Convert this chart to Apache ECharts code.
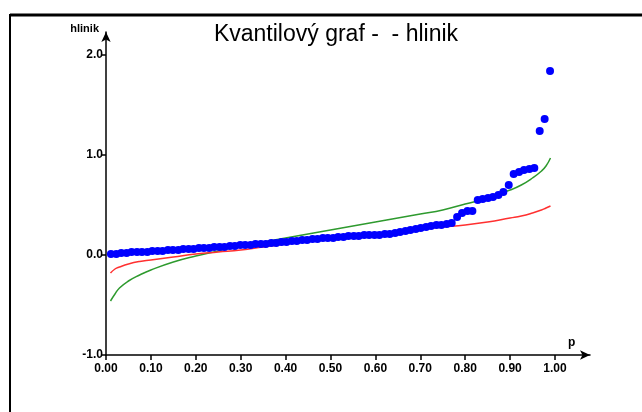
<!DOCTYPE html>
<html>
<head>
<meta charset="utf-8">
<script src="https://cdn.jsdelivr.net/npm/echarts@6/dist/echarts.min.js"></script>
<style>
  html, body { margin: 0; padding: 0; background: #fff; }
  #chart { width: 642px; height: 412px; }
</style>
</head>
<body>
<div id="chart"></div>
<script>
// Empirical quantiles of the "hlinik" sample (plotting position p, value)
const sampleP = [0.011, 0.023, 0.034, 0.046, 0.057, 0.069, 0.080, 0.092, 0.103, 0.115,
  0.126, 0.138, 0.149, 0.161, 0.172, 0.184, 0.195, 0.207, 0.218, 0.230,
  0.241, 0.253, 0.264, 0.276, 0.287, 0.299, 0.310, 0.322, 0.333, 0.345,
  0.356, 0.368, 0.379, 0.391, 0.402, 0.414, 0.425, 0.437, 0.448, 0.460,
  0.471, 0.483, 0.494, 0.506, 0.517, 0.529, 0.540, 0.552, 0.563, 0.575,
  0.586, 0.598, 0.609, 0.621, 0.632, 0.644, 0.655, 0.667, 0.678, 0.690,
  0.701, 0.713, 0.724, 0.736, 0.747, 0.759, 0.770, 0.782, 0.793, 0.805,
  0.816, 0.828, 0.839, 0.851, 0.862, 0.874, 0.885, 0.897, 0.908, 0.920,
  0.931, 0.943, 0.954, 0.966, 0.977, 0.989];
const sampleValues = [0.01, 0.01, 0.02, 0.02, 0.03, 0.03, 0.03, 0.03, 0.04, 0.04,
  0.04, 0.05, 0.05, 0.05, 0.06, 0.06, 0.06, 0.07, 0.07, 0.07,
  0.08, 0.08, 0.08, 0.09, 0.09, 0.10, 0.10, 0.10, 0.11, 0.11,
  0.11, 0.12, 0.12, 0.13, 0.13, 0.14, 0.14, 0.15, 0.15, 0.16,
  0.16, 0.17, 0.17, 0.17, 0.18, 0.18, 0.19, 0.19, 0.19, 0.20,
  0.20, 0.20, 0.20, 0.21, 0.21, 0.22, 0.23, 0.24, 0.25, 0.26,
  0.27, 0.28, 0.29, 0.30, 0.30, 0.31, 0.32, 0.38, 0.42, 0.44,
  0.44, 0.55, 0.56, 0.57, 0.58, 0.60, 0.63, 0.70, 0.81, 0.83,
  0.85, 0.86, 0.87, 1.24, 1.36, 1.84];

// Theoretical quantile curves
const curveP = [0.01, 0.02, 0.03, 0.05, 0.075, 0.1, 0.15, 0.2, 0.25, 0.3, 0.35, 0.4,
  0.45, 0.5, 0.55, 0.6, 0.65, 0.7, 0.75, 0.8, 0.85, 0.9, 0.925, 0.95, 0.97, 0.98, 0.99];
const greenValues = [-0.46, -0.39, -0.33, -0.26, -0.20, -0.15, -0.07, -0.01, 0.04, 0.09,
  0.13, 0.17, 0.21, 0.25, 0.29, 0.33, 0.37, 0.41, 0.45, 0.51, 0.57, 0.65, 0.70, 0.77,
  0.84, 0.89, 0.97];
const redValues = [-0.18, -0.14, -0.12, -0.09, -0.065, -0.05, -0.02, 0.01, 0.03, 0.05,
  0.08, 0.11, 0.14, 0.17, 0.19, 0.21, 0.24, 0.26, 0.28, 0.30, 0.33, 0.37, 0.39, 0.42,
  0.45, 0.47, 0.49];

const xTicks = [0, 0.1, 0.2, 0.3, 0.4, 0.5, 0.6, 0.7, 0.8, 0.9, 1.0];
const yTicks = [-1, 0, 1, 2];

const zip = (a, b) => a.map((v, i) => [v, b[i]]);

const chart = echarts.init(document.getElementById('chart'), null, { renderer: 'canvas' });

const labelFont = { color: '#000', fontSize: 12, fontWeight: 'bold', fontFamily: 'Liberation Sans, Arial, sans-serif' };

chart.setOption({
  backgroundColor: '#fff',
  animation: false,
  title: {
    text: 'Kvantilový graf -  - hlinik',
    left: 331,
    textAlign: 'center',
    top: 18,
    textStyle: { color: '#000', fontSize: 23, fontWeight: 'normal', fontFamily: 'Liberation Sans, Arial, sans-serif' }
  },
  grid: { left: 106, right: 52, top: 32, bottom: 57 },
  xAxis: {
    type: 'value',
    min: 0,
    max: 1.078,
    name: 'p',
    nameLocation: 'end',
    nameGap: -22,
    nameTextStyle: { color: '#000', fontSize: 12, fontWeight: 'bold', verticalAlign: 'bottom', padding: [0, 0, 6, 0], fontFamily: 'Liberation Sans, Arial, sans-serif' },
    axisLine: { show: true, onZero: false, symbol: ['none', 'arrow'], symbolSize: [7, 10], lineStyle: { color: '#000', width: 1.5 } },
    axisTick: { show: true, length: 5, customValues: xTicks, lineStyle: { color: '#000', width: 1.5 } },
    axisLabel: { margin: 8, customValues: xTicks, formatter: v => v.toFixed(2), ...labelFont },
    splitLine: { show: false }
  },
  yAxis: {
    type: 'value',
    min: -1,
    max: 2.23,
    name: 'hlinik',
    nameLocation: 'end',
    nameGap: 3,
    nameTextStyle: { color: '#000', fontSize: 11, fontWeight: 'bold', align: 'right', verticalAlign: 'middle', padding: [0, 7, 0, 0], fontFamily: 'Liberation Sans, Arial, sans-serif' },
    axisLine: { show: true, onZero: false, symbol: ['none', 'arrow'], symbolSize: [7, 10], lineStyle: { color: '#000', width: 1.5 } },
    axisTick: { show: true, length: 5, customValues: yTicks, lineStyle: { color: '#000', width: 1.5 } },
    axisLabel: { margin: 3, customValues: yTicks, formatter: v => v.toFixed(1), ...labelFont },
    splitLine: { show: false }
  },
  series: [
    {
      name: 'normal',
      type: 'line',
      data: zip(curveP, greenValues),
      showSymbol: false,
      smooth: true,
      lineStyle: { color: '#2e9a2e', width: 1.5 },
      z: 2
    },
    {
      name: 'robust',
      type: 'line',
      data: zip(curveP, redValues),
      showSymbol: false,
      smooth: true,
      lineStyle: { color: '#ff3030', width: 1.5 },
      z: 3
    },
    {
      name: 'hlinik',
      type: 'scatter',
      data: zip(sampleP, sampleValues),
      symbol: 'circle',
      symbolSize: 8,
      itemStyle: { color: '#0000ff', opacity: 1 },
      z: 4
    }
  ],
  graphic: [
    { type: 'line', shape: { x1: 10, y1: 15, x2: 642, y2: 15 }, style: { stroke: '#000', lineWidth: 3 } },
    { type: 'line', shape: { x1: 10, y1: 14, x2: 10, y2: 412 }, style: { stroke: '#000', lineWidth: 2 } }
  ]
});
</script>
</body>
</html>
